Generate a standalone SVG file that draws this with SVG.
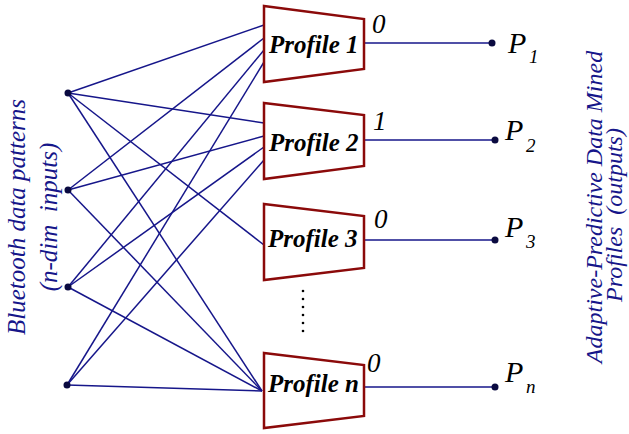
<svg xmlns="http://www.w3.org/2000/svg" width="629" height="434" viewBox="0 0 629 434">
<style>
.box{fill:#fff;stroke:#8b0a0a;stroke-width:2.5;stroke-linejoin:miter}
.ln{stroke:#16168a;stroke-width:1.5;fill:none}
.dot{fill:#0a0a40}
text{font-family:'Liberation Serif','Times New Roman',serif;font-style:italic}
.pl{font-weight:bold;font-size:25px;fill:#000}
.val{font-size:27px;fill:#000}
.pout{font-size:30px;fill:#000}
.sub{font-size:19px;fill:#000}
.side{fill:#16168a;text-anchor:middle}
.sl{font-size:25px}
.sr{font-size:24px}
</style>
<rect width="629" height="434" fill="#fff"/>
<g id="connectors">
<line class="ln" x1="68" y1="93" x2="264" y2="25"/>
<line class="ln" x1="68" y1="93" x2="264" y2="123"/>
<line class="ln" x1="68" y1="93" x2="264" y2="245"/>
<line class="ln" x1="68" y1="93" x2="262" y2="391"/>
<line class="ln" x1="68" y1="190" x2="264" y2="38"/>
<line class="ln" x1="68" y1="190" x2="264" y2="136"/>
<line class="ln" x1="68" y1="190" x2="262" y2="391"/>
<line class="ln" x1="68" y1="287" x2="264" y2="50"/>
<line class="ln" x1="68" y1="287" x2="264" y2="147"/>
<line class="ln" x1="68" y1="287" x2="262" y2="391"/>
<line class="ln" x1="67" y1="385" x2="264" y2="62"/>
<line class="ln" x1="67" y1="385" x2="264" y2="160"/>
<line class="ln" x1="67" y1="385" x2="262" y2="391"/>
<line class="ln" x1="364" y1="43" x2="492" y2="43"/>
<line class="ln" x1="364" y1="140" x2="495" y2="140"/>
<line class="ln" x1="364" y1="240" x2="495" y2="240"/>
<line class="ln" x1="364" y1="387" x2="495" y2="387"/>
</g>
<g id="input1"><circle class="dot" cx="68" cy="93" r="3.5"/></g>
<g id="input2"><circle class="dot" cx="68" cy="190" r="3.5"/></g>
<g id="input3"><circle class="dot" cx="68" cy="287" r="3.5"/></g>
<g id="input4"><circle class="dot" cx="67" cy="385" r="3.5"/></g>
<g id="profile1">
<polygon class="box" points="264,6 364,19 364,69 264,82"/>
<text class="pl" x="269" y="53">Profile 1</text>
</g>
<g id="profile2">
<polygon class="box" points="264,103 364,115 364,166 264,179"/>
<text class="pl" x="269" y="151">Profile 2</text>
</g>
<g id="profile3">
<polygon class="box" points="264,204 364,216 364,268 264,280"/>
<text class="pl" x="268" y="247">Profile 3</text>
</g>
<g id="profilen">
<polygon class="box" points="264,353 364,365 364,416 264,428"/>
<text class="pl" x="268" y="392">Profile n</text>
</g>
<g id="ellipsis" fill="#000">
<circle cx="303" cy="291" r="1.3"/><circle cx="303" cy="299" r="1.3"/><circle cx="303" cy="307" r="1.3"/>
<circle cx="303" cy="315" r="1.3"/><circle cx="303" cy="323" r="1.3"/><circle cx="303" cy="331" r="1.3"/>
</g>
<g id="output1">
<text class="val" x="372" y="33">0</text>
<circle class="dot" cx="492" cy="43" r="3.5"/>
<text class="pout" x="508" y="53">P</text><text class="sub" x="529" y="63">1</text>
</g>
<g id="output2">
<text class="val" x="373" y="130">1</text>
<circle class="dot" cx="495" cy="140" r="3.5"/>
<text class="pout" x="505" y="140">P</text><text class="sub" x="526" y="152">2</text>
</g>
<g id="output3">
<text class="val" x="374" y="228">0</text>
<circle class="dot" cx="495" cy="240" r="3.5"/>
<text class="pout" x="505" y="237">P</text><text class="sub" x="526" y="248">3</text>
</g>
<g id="outputn">
<text class="val" x="367" y="372">0</text>
<circle class="dot" cx="495" cy="387" r="3.5"/>
<text class="pout" x="505" y="382">P</text><text class="sub" x="526" y="393">n</text>
</g>
<g id="input-label">
<text class="side sl" transform="translate(25,217) rotate(-90)">Bluetooth data patterns</text>
<text class="side sl" transform="translate(57,217) rotate(-90)" xml:space="preserve">(n-dim  inputs)</text>
</g>
<g id="output-label">
<text class="side sr" transform="translate(602,207) rotate(-90)">Adaptive-Predictive Data Mined</text>
<text class="side sr" transform="translate(622,215) rotate(-90)" xml:space="preserve">Profiles  (outputs)</text>
</g>
</svg>
